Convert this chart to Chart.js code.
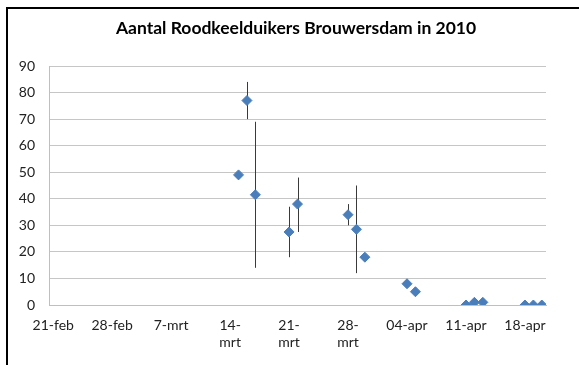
<!DOCTYPE html>
<html lang="nl">
<head>
<meta charset="UTF-8">
<title>Roodkeelduikers Brouwersdam 2010</title>
<script src="https://cdn.jsdelivr.net/npm/chart.js@4.4.1/dist/chart.umd.min.js"></script>
<style>
    html, body { margin: 0; padding: 0; background: #fff; }
    #wrap { position: relative; width: 579px; height: 365px; overflow: hidden; }
    #frame { position: absolute; left: 6px; top: 7px; width: 700px; height: 500px;
             border-left: 2px solid #000; border-top: 2px solid #000; pointer-events: none; }
    canvas { position: absolute; left: 0; top: 0; }
</style>
</head>
<body>
<div id="wrap">
    <canvas id="chart" width="579" height="365"></canvas>
    <div id="frame"></div>
</div>
<script>
    // telling per datum (2010)
    const dates = ["2010-03-15", "2010-03-16", "2010-03-17", "2010-03-21", "2010-03-22",
                   "2010-03-28", "2010-03-29", "2010-03-30", "2010-04-04", "2010-04-05",
                   "2010-04-11", "2010-04-12", "2010-04-13", "2010-04-18", "2010-04-19", "2010-04-20"]
    const counts = [49, 77, 41.5, 27.5, 38, 34, 28.5, 18, 8, 5, 0, 1, 1, 0, 0, 0]
    // onder- en bovengrens van de foutbalken (null = geen balk)
    const errLow  = [null, 70, 14, 18, 27.5, 30, 12, null, null, null, null, null, null, null, null, null]
    const errHigh = [null, 84, 69, 37, 48, 38, 45, null, null, null, null, null, null, null, null, null]

    const startDate = "2010-02-21"
    const endDate = "2010-04-20"
    const tickLabels = ["21-feb", "28-feb", "7-mrt", ["14-", "mrt"], ["21-", "mrt"], ["28-", "mrt"], "04-apr", "11-apr", "18-apr"]
    const yTicks = [0, 10, 20, 30, 40, 50, 60, 70, 80, 90]

    function dayNr(d) {
        return Math.round((Date.parse(d) - Date.parse(startDate)) / 86400000)
    }
    const tickDays = tickLabels.map((l, i) => i * 7)
    const points = dates.map((d, i) => ({x: dayNr(d), y: counts[i]}))

    const errorBars = {
        id: "errorBars",
        beforeDatasetsDraw(chart) {
            const ctx = chart.ctx
            const xs = chart.scales.x, ys = chart.scales.y
            ctx.save()
            ctx.strokeStyle = "#3a3a3a"
            ctx.lineWidth = 1
            dates.forEach((d, i) => {
                if (errLow[i] == null) return
                const px = Math.round(xs.getPixelForValue(dayNr(d))) + 0.5
                ctx.beginPath()
                ctx.moveTo(px, ys.getPixelForValue(errLow[i]))
                ctx.lineTo(px, ys.getPixelForValue(errHigh[i]))
                ctx.stroke()
            })
            ctx.restore()
        }
    }

    const font = "Lato, 'Open Sans', sans-serif"

    new Chart("chart", {
        type: "scatter",
        data: {
            datasets: [{
                label: "Aantal",
                data: points,
                pointStyle: "rectRot",
                pointRadius: 5,
                pointHoverRadius: 5,
                backgroundColor: "#4a7ebb",
                borderColor: "#4a7ebb",
                borderWidth: 1
            }]
        },
        options: {
            responsive: false,
            animation: false,
            events: [],
            layout: {padding: {left: 13, right: 0, top: 0, bottom: 0}},
            plugins: {
                legend: {display: false},
                tooltip: {enabled: false},
                title: {
                    display: true,
                    text: "Aantal Roodkeelduikers Brouwersdam in 2010",
                    color: "#000",
                    font: {family: font, size: 17.5, weight: "bold", lineHeight: 1.2},
                    padding: {top: 18, bottom: 27}
                }
            },
            scales: {
                x: {
                    type: "linear",
                    min: -0.5,
                    max: dayNr(endDate) + 0.5,
                    afterBuildTicks: (s) => { s.ticks = tickDays.map(v => ({value: v})) },
                    afterFit: (s) => { s.height = 60 },
                    grid: {display: false, drawTicks: false},
                    border: {display: true, color: "#bfbfbf", width: 1},
                    ticks: {
                        autoSkip: false,
                        maxRotation: 0,
                        padding: 12,
                        color: "#222",
                        font: {family: font, size: 14, lineHeight: 1.2},
                        callback: (v) => tickLabels[tickDays.indexOf(v)]
                    }
                },
                y: {
                    min: 0,
                    max: 90,
                    afterBuildTicks: (s) => { s.ticks = yTicks.map(v => ({value: v})) },
                    afterFit: (s) => { s.width = 36 },
                    grid: {color: "#c6c6c6", lineWidth: 1, drawTicks: false},
                    border: {display: true, color: "#bfbfbf", width: 1},
                    ticks: {
                        padding: 14,
                        color: "#222",
                        font: {family: font, size: 14}
                    }
                },
                // lege ruimte rechts van het plotgebied
                yRight: {
                    position: "right",
                    display: true,
                    min: 0,
                    max: 90,
                    afterFit: (s) => { s.width = 33 },
                    grid: {display: false, drawTicks: false},
                    border: {display: false},
                    ticks: {display: false}
                }
            }
        },
        plugins: [errorBars]
    })
</script>
</body>
</html>
